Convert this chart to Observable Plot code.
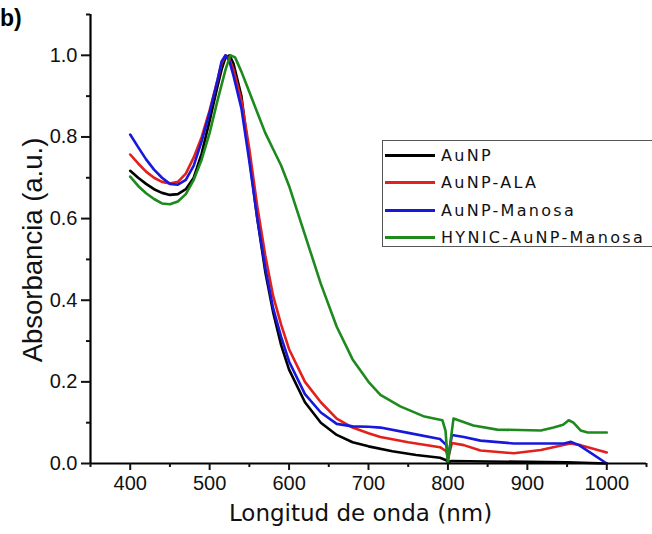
<!DOCTYPE html>
<html>
<head>
<meta charset="utf-8">
<script src="https://cdn.jsdelivr.net/npm/d3@7"></script>
<script src="https://cdn.jsdelivr.net/npm/@observablehq/plot@0.6"></script>
<style>
  html, body { margin: 0; padding: 0; background: #fff; }
  #wrap { position: relative; width: 652px; height: 534px; overflow: hidden; background: #fff; }
  #panel { position: absolute; left: 0px; top: 5px; font: bold 23px "Liberation Sans", Arial, sans-serif; color: #000; }
  #legend { position: absolute; left: 382px; top: 140px; width: 300px; height: 107px; border: 1.5px solid #555; box-sizing: border-box; background: #fff; }
  .item { position: absolute; left: 2px; height: 20px; display: flex; align-items: center; font: 16px "DejaVu Sans", Verdana, sans-serif; letter-spacing: 2.3px; color: #111; white-space: nowrap; }
  .item span.sw { display: inline-block; width: 50px; height: 3px; margin-right: 6px; }
</style>
</head>
<body>
<div id="wrap"></div>
<script>
// Series names and colours
const series = ["AuNP", "AuNP-ALA", "AuNP-Manosa", "HYNIC-AuNP-Manosa"];
const colors = ["#000000", "#e2201c", "#1818dc", "#1e8a1e"];

// Tick labels
const xMajor = [400, 500, 600, 700, 800, 900, 1000];
const xMinor = [350, 450, 550, 650, 750, 850, 950, 1050];
const yMajor = [0, 0.2, 0.4, 0.6, 0.8, 1.0];
const yMinor = [0.1, 0.3, 0.5, 0.7, 0.9, 1.1];

// AuNP (black)
const nmAuNP  = [400,410,420,430,440,450,460,470,480,490,500,510,515,520,525,530,540,550,560,570,580,590,600,620,640,660,680,700,730,760,790,798,800,805,850,900,950,1000];
const absAuNP = [.717,.70,.685,.672,.663,.658,.66,.672,.70,.76,.84,.925,.965,.995,1.0,.98,.90,.75,.60,.47,.37,.29,.23,.15,.10,.07,.052,.042,.03,.021,.014,.008,.004,.006,.005,.004,.003,.0];

// AuNP-ALA (red)
const nmALA  = [400,410,420,430,440,450,460,470,480,490,500,510,515,520,525,530,540,550,560,570,580,590,600,620,640,660,680,700,715,750,790,798,800,805,820,841,883,917,954,967,1000];
const absALA = [.757,.735,.715,.70,.69,.686,.69,.71,.75,.80,.865,.94,.98,1.0,.99,.965,.89,.77,.63,.51,.41,.34,.28,.20,.15,.11,.088,.074,.065,.052,.04,.03,.012,.05,.045,.032,.025,.033,.049,.045,.027];

// AuNP-Manosa (blue)
const nmMan  = [400,410,420,430,440,450,460,470,480,490,500,510,515,520,525,530,540,550,560,570,580,590,600,620,640,660,680,700,715,750,790,798,800,805,820,841,883,946,955,965,1000];
const absMan = [.806,.775,.745,.72,.70,.685,.683,.695,.73,.79,.86,.94,.985,1.0,.985,.95,.87,.74,.60,.48,.38,.31,.25,.17,.125,.097,.091,.09,.088,.075,.06,.045,.012,.07,.065,.056,.049,.049,.053,.045,.0];

// HYNIC-AuNP-Manosa (green)
const nmHyn  = [400,410,420,430,440,450,460,470,480,490,500,510,520,526,532,540,550,560,570,580,590,600,610,620,640,660,680,700,715,740,769,793,797,800,803,807,832,862,917,933,945,952,958,967,976,1000];
const absHyn = [.703,.68,.662,.648,.637,.635,.642,.66,.695,.745,.81,.89,.965,1.0,.995,.96,.91,.86,.81,.77,.73,.68,.62,.56,.44,.335,.255,.20,.168,.14,.116,.106,.08,.0,.05,.11,.093,.083,.081,.088,.095,.106,.10,.081,.076,.076];

const rows = [];
[[nmAuNP, absAuNP], [nmALA, absALA], [nmMan, absMan], [nmHyn, absHyn]].forEach(([xs, ys], i) => {
  xs.forEach((x, j) => rows.push({s: series[i], x, y: ys[j]}));
});

const chart = Plot.plot({
  width: 652, height: 534,
  marginLeft: 90, marginRight: 6, marginTop: 14, marginBottom: 71,
  style: {fontFamily: "'Liberation Sans', Arial, sans-serif", fontSize: "20px", color: "#111", background: "#fff"},
  x: {domain: [350, 1050]},
  y: {domain: [0, 1.1]},
  color: {domain: series, range: colors},
  marks: [
    Plot.line(rows, {x: "x", y: "y", z: "s", stroke: "s", strokeWidth: 2.6, strokeLinejoin: "round"}),
    Plot.ruleY([0], {strokeWidth: 2.2, stroke: "#000"}),
    Plot.ruleX([350], {strokeWidth: 2.2, stroke: "#000"}),
    Plot.axisX({ticks: xMajor, tickSize: 7, tickPadding: 5, strokeWidth: 2, tickFormat: d => String(d), label: null, fontSize: 20}),
    Plot.axisX({ticks: xMinor, tickSize: 4, strokeWidth: 2, tickFormat: () => "", label: null}),
    Plot.axisY({ticks: yMajor, tickSize: 9, tickPadding: 4, strokeWidth: 2, tickFormat: d => d.toFixed(1), label: null, fontSize: 20}),
    Plot.axisY({ticks: yMinor, tickSize: 4, strokeWidth: 2, tickFormat: () => "", label: null}),
    Plot.text(["Longitud de onda (nm)"], {frameAnchor: "bottom", dx: -8, dy: 57, fontSize: 23, fontFamily: "'DejaVu Sans', Verdana, sans-serif", fill: "#111"}),
    Plot.text(["Absorbancia (a.u.)"], {frameAnchor: "left", textAnchor: "middle", rotate: -90, dx: -57, dy: 11, fontSize: 27.5, fill: "#111"})
  ]
});

const wrap = document.getElementById("wrap");
wrap.appendChild(chart);

const panel = document.createElement("div");
panel.id = "panel"; panel.textContent = "b)";
wrap.appendChild(panel);

const legend = document.createElement("div");
legend.id = "legend";
const tops = [4, 31, 59, 86];
series.forEach((name, i) => {
  const it = document.createElement("div");
  it.className = "item";
  it.style.top = tops[i] + "px";
  const sw = document.createElement("span");
  sw.className = "sw"; sw.style.background = colors[i];
  it.appendChild(sw);
  it.appendChild(document.createTextNode(name));
  legend.appendChild(it);
});
wrap.appendChild(legend);
</script>
</body>
</html>
